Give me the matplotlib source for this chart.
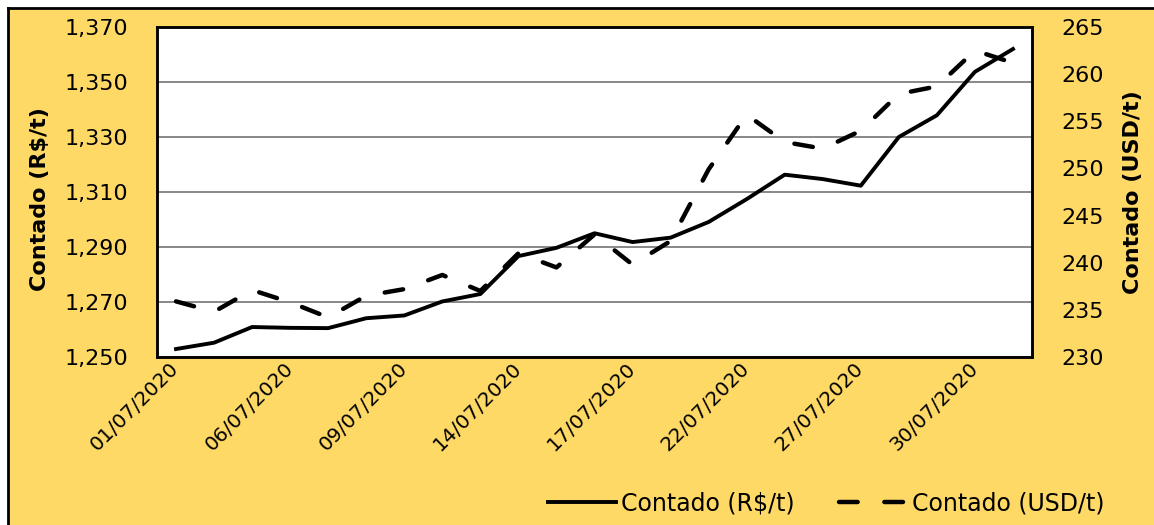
import matplotlib.pyplot as plt
from matplotlib.patches import Rectangle
from matplotlib.lines import Line2D

# --- Datos (julio 2020, días hábiles) ---
fechas = ["01/07/2020", "02/07/2020", "03/07/2020", "06/07/2020", "07/07/2020",
          "08/07/2020", "09/07/2020", "10/07/2020", "13/07/2020", "14/07/2020",
          "15/07/2020", "16/07/2020", "17/07/2020", "20/07/2020", "21/07/2020",
          "22/07/2020", "23/07/2020", "24/07/2020", "27/07/2020", "28/07/2020",
          "29/07/2020", "30/07/2020", "31/07/2020"]

contado_brl = [1252.9, 1255.2, 1260.9, 1260.6, 1260.5, 1264.1, 1265.1, 1270.2,
               1272.9, 1286.7, 1289.7, 1295.0, 1291.8, 1293.4, 1299.1, 1307.4,
               1316.3, 1314.7, 1312.3, 1330.0, 1337.9, 1353.7, 1362.0]

contado_usd = [235.9, 234.8, 237.1, 235.8, 234.2, 236.5, 237.2, 238.7,
               237.0, 241.0, 239.5, 243.0, 239.8, 242.3, 249.9, 255.7,
               252.8, 252.1, 254.0, 257.9, 258.7, 262.5, 261.2]

ticks_brl = [1250, 1270, 1290, 1310, 1330, 1350, 1370]
ticks_usd = [230, 235, 240, 245, 250, 255, 260, 265]
paso_fechas = 3

fondo = "#FFD966"
W, H = 1154, 525

fig = plt.figure(figsize=(W / 100, H / 100), dpi=100)
fig.patch.set_facecolor(fondo)

# franja blanca superior / izquierda y borde negro del recuadro
fig.add_artist(Rectangle((0, 517 / H), 1, 8 / H, transform=fig.transFigure,
                         facecolor="white", edgecolor="none"))
fig.add_artist(Rectangle((0, 0), 8 / W, 1, transform=fig.transFigure,
                         facecolor="white", edgecolor="none"))
fig.add_artist(Line2D([8 / W, 1], [517 / H, 517 / H], transform=fig.transFigure,
                      color="black", linewidth=2))
fig.add_artist(Line2D([8 / W, 8 / W], [0, 517 / H], transform=fig.transFigure,
                      color="black", linewidth=2))

ax = fig.add_axes([157 / W, 1 - 357 / H, 875 / W, 330 / H])
ax2 = ax.twinx()

x = list(range(len(fechas)))

linea1, = ax.plot(x, contado_brl, color="black", linewidth=2.8,
                  solid_joinstyle="round", label="Contado (R$/t)")
linea2, = ax2.plot(x, contado_usd, color="black", linewidth=3.2,
                   dashes=(4.2, 6.0), dash_capstyle="round",
                   dash_joinstyle="round", label="Contado (USD/t)")

ax.set_xlim(-0.5, len(fechas) - 0.5)
ax.set_ylim(ticks_brl[0], ticks_brl[-1])
ax2.set_ylim(ticks_usd[0], ticks_usd[-1])

ax.set_yticks(ticks_brl)
ax.set_yticklabels([f"{v:,}" for v in ticks_brl])
ax2.set_yticks(ticks_usd)
ax2.set_yticklabels([str(v) for v in ticks_usd])

ax.set_xticks(x[::paso_fechas])
ax.set_xticklabels(fechas[::paso_fechas], rotation=45, ha="right", va="center",
                   rotation_mode="anchor", fontsize=14.5)

ax.tick_params(axis="y", length=0, pad=21, labelsize=16)
ax2.tick_params(axis="y", length=0, pad=21, labelsize=16)
ax.tick_params(axis="x", length=0, pad=6)

ax.grid(axis="y", color="#7f7f7f", linewidth=1.3)
ax.set_axisbelow(True)
ax.set_facecolor("white")

for a in (ax, ax2):
    for s in a.spines.values():
        s.set_color("black")
        s.set_linewidth(1.8)

ax.set_ylabel("Contado (R$/t)", fontsize=16, fontweight="bold")
ax.yaxis.set_label_coords(-0.122, 0.48)
ax2.set_ylabel("Contado (USD/t)", fontsize=16, fontweight="bold")
ax2.yaxis.set_label_coords(1.104, 0.5)

fig.legend(handles=[linea1, linea2], loc="center right",
           bbox_to_anchor=(1105 / W, 1 - 503 / H), ncol=2, frameon=False,
           fontsize=17, handlelength=2.9, handletextpad=0.2,
           columnspacing=1.9, borderpad=0, borderaxespad=0)

fig.savefig("out.png", dpi=100, facecolor=fig.get_facecolor())
